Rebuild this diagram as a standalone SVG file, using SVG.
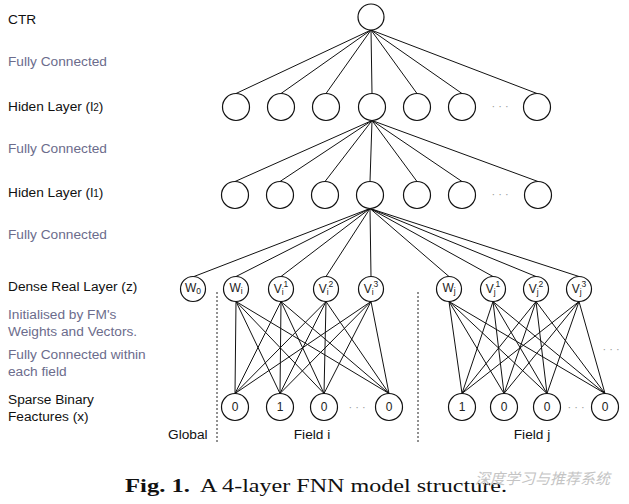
<svg xmlns="http://www.w3.org/2000/svg" width="629" height="504" viewBox="0 0 629 504">
<style>
.lbl{font-family:"Liberation Sans",Arial,sans-serif;font-size:13.7px;fill:#111}
.fc{font-family:"Liberation Sans",Arial,sans-serif;font-size:13.7px;fill:#6c6c8c}
.node{fill:#fff;stroke:#111;stroke-width:1.2}
.nt{font-family:"Liberation Sans",Arial,sans-serif;font-size:12px;fill:#222;text-anchor:middle}
.ns{font-size:8.5px}
.dots{font-family:"Liberation Sans",Arial,sans-serif;font-size:11px;fill:#999;text-anchor:middle}
.edge{stroke:#111;stroke-width:1;fill:none}
.dash{stroke:#222;stroke-width:1;stroke-dasharray:2,2;fill:none}
</style>
<rect width="629" height="504" fill="#fff"/>

<g id="labels">
<text class="lbl" x="8" y="24">CTR</text>
<text class="fc" x="8" y="66">Fully Connected</text>
<text class="lbl" x="8" y="111">Hiden Layer (l<tspan font-size="10">2</tspan>)</text>
<text class="fc" x="8" y="153">Fully Connected</text>
<text class="lbl" x="8" y="197">Hiden Layer (l<tspan font-size="10">1</tspan>)</text>
<text class="fc" x="8" y="239">Fully Connected</text>
<text class="lbl" x="8" y="291">Dense Real Layer (z)</text>
<text class="fc" x="8" y="319">Initialised by FM's</text>
<text class="fc" x="8" y="336">Weights and Vectors.</text>
<text class="fc" x="8" y="359">Fully Connected within</text>
<text class="fc" x="8" y="376">each field</text>
<text class="lbl" x="8" y="404">Sparse Binary</text>
<text class="lbl" x="8" y="421">Feactures (x)</text>
<text class="lbl" x="168" y="439">Global</text>
<text class="lbl" x="312" y="439" text-anchor="middle">Field i</text>
<text class="lbl" x="532" y="439" text-anchor="middle">Field j</text>
</g>

<g id="connectors">
<line class="edge" x1="371" y1="30" x2="236" y2="93.5"/>
<line class="edge" x1="371" y1="30" x2="281" y2="93.5"/>
<line class="edge" x1="371" y1="30" x2="326" y2="93.5"/>
<line class="edge" x1="371" y1="30" x2="372" y2="93.5"/>
<line class="edge" x1="371" y1="30" x2="417" y2="93.5"/>
<line class="edge" x1="371" y1="30" x2="462" y2="93.5"/>
<line class="edge" x1="371" y1="30" x2="537" y2="93.5"/>
<line class="edge" x1="372" y1="120.5" x2="235" y2="181.5"/>
<line class="edge" x1="372" y1="120.5" x2="280" y2="181.5"/>
<line class="edge" x1="372" y1="120.5" x2="325" y2="181.5"/>
<line class="edge" x1="372" y1="120.5" x2="370" y2="181.5"/>
<line class="edge" x1="372" y1="120.5" x2="417" y2="181.5"/>
<line class="edge" x1="372" y1="120.5" x2="462" y2="181.5"/>
<line class="edge" x1="372" y1="120.5" x2="538" y2="181.5"/>
<line class="edge" x1="370" y1="208.5" x2="194" y2="276.5"/>
<line class="edge" x1="370" y1="208.5" x2="236" y2="276.5"/>
<line class="edge" x1="370" y1="208.5" x2="281" y2="276.5"/>
<line class="edge" x1="370" y1="208.5" x2="326" y2="276.5"/>
<line class="edge" x1="370" y1="208.5" x2="371" y2="276.5"/>
<line class="edge" x1="370" y1="208.5" x2="449" y2="276.5"/>
<line class="edge" x1="370" y1="208.5" x2="493" y2="276.5"/>
<line class="edge" x1="370" y1="208.5" x2="536" y2="276.5"/>
<line class="edge" x1="370" y1="208.5" x2="579" y2="276.5"/>
<g>
<line class="edge" x1="236" y1="301.5" x2="235" y2="393.5"/>
<line class="edge" x1="236" y1="301.5" x2="280" y2="393.5"/>
<line class="edge" x1="236" y1="301.5" x2="324" y2="393.5"/>
<line class="edge" x1="236" y1="301.5" x2="389" y2="393.5"/>
<line class="edge" x1="281" y1="301.5" x2="235" y2="393.5"/>
<line class="edge" x1="281" y1="301.5" x2="280" y2="393.5"/>
<line class="edge" x1="281" y1="301.5" x2="324" y2="393.5"/>
<line class="edge" x1="281" y1="301.5" x2="389" y2="393.5"/>
<line class="edge" x1="326" y1="301.5" x2="235" y2="393.5"/>
<line class="edge" x1="326" y1="301.5" x2="280" y2="393.5"/>
<line class="edge" x1="326" y1="301.5" x2="324" y2="393.5"/>
<line class="edge" x1="326" y1="301.5" x2="389" y2="393.5"/>
<line class="edge" x1="371" y1="301.5" x2="235" y2="393.5"/>
<line class="edge" x1="371" y1="301.5" x2="280" y2="393.5"/>
<line class="edge" x1="371" y1="301.5" x2="324" y2="393.5"/>
<line class="edge" x1="371" y1="301.5" x2="389" y2="393.5"/>
</g>
<g>
<line class="edge" x1="449" y1="301.5" x2="462" y2="393.5"/>
<line class="edge" x1="449" y1="301.5" x2="504" y2="393.5"/>
<line class="edge" x1="449" y1="301.5" x2="547" y2="393.5"/>
<line class="edge" x1="449" y1="301.5" x2="605" y2="393.5"/>
<line class="edge" x1="493" y1="301.5" x2="462" y2="393.5"/>
<line class="edge" x1="493" y1="301.5" x2="504" y2="393.5"/>
<line class="edge" x1="493" y1="301.5" x2="547" y2="393.5"/>
<line class="edge" x1="493" y1="301.5" x2="605" y2="393.5"/>
<line class="edge" x1="536" y1="301.5" x2="462" y2="393.5"/>
<line class="edge" x1="536" y1="301.5" x2="504" y2="393.5"/>
<line class="edge" x1="536" y1="301.5" x2="547" y2="393.5"/>
<line class="edge" x1="536" y1="301.5" x2="605" y2="393.5"/>
<line class="edge" x1="579" y1="301.5" x2="462" y2="393.5"/>
<line class="edge" x1="579" y1="301.5" x2="504" y2="393.5"/>
<line class="edge" x1="579" y1="301.5" x2="547" y2="393.5"/>
<line class="edge" x1="579" y1="301.5" x2="605" y2="393.5"/>
</g>
<line class="dash" x1="217" y1="292" x2="217" y2="442"/>
<line class="dash" x1="418" y1="292" x2="418" y2="442"/>
</g>

<g id="ctr"><circle class="node" cx="371" cy="17" r="13"/></g>

<g id="l2">
<circle class="node" cx="236" cy="107" r="13.5"/>
<circle class="node" cx="281" cy="107" r="13.5"/>
<circle class="node" cx="326" cy="107" r="13.5"/>
<circle class="node" cx="372" cy="107" r="13.5"/>
<circle class="node" cx="417" cy="107" r="13.5"/>
<circle class="node" cx="462" cy="107" r="13.5"/>
<text class="dots" x="500" y="110">· · ·</text>
<circle class="node" cx="537" cy="107" r="13.5"/>
</g>

<g id="l1">
<circle class="node" cx="235" cy="195" r="13.5"/>
<circle class="node" cx="280" cy="195" r="13.5"/>
<circle class="node" cx="325" cy="195" r="13.5"/>
<circle class="node" cx="370" cy="195" r="13.5"/>
<circle class="node" cx="417" cy="195" r="13.5"/>
<circle class="node" cx="462" cy="195" r="13.5"/>
<text class="dots" x="500" y="198">· · ·</text>
<circle class="node" cx="538" cy="195" r="13.5"/>
</g>

<g id="dense-global">
<circle class="node" cx="193" cy="289" r="12.5"/>
<text class="nt" x="193" y="292">W<tspan class="ns" dy="2">0</tspan></text>
</g>
<g id="dense-field-i">
<circle class="node" cx="236" cy="289" r="12.5"/>
<text class="nt" x="236" y="292">W<tspan class="ns" dy="2">i</tspan></text>
<circle class="node" cx="281" cy="289" r="12.5"/>
<text class="nt" x="281" y="293">V<tspan class="ns" dy="2">i</tspan><tspan class="ns" dy="-8">1</tspan></text>
<circle class="node" cx="326" cy="289" r="12.5"/>
<text class="nt" x="326" y="293">V<tspan class="ns" dy="2">i</tspan><tspan class="ns" dy="-8">2</tspan></text>
<circle class="node" cx="371" cy="289" r="12.5"/>
<text class="nt" x="371" y="293">V<tspan class="ns" dy="2">i</tspan><tspan class="ns" dy="-8">3</tspan></text>
</g>
<g id="dense-field-j">
<circle class="node" cx="449" cy="289" r="12.5"/>
<text class="nt" x="449" y="292">W<tspan class="ns" dy="2">j</tspan></text>
<circle class="node" cx="493" cy="289" r="12.5"/>
<text class="nt" x="493" y="293">V<tspan class="ns" dy="2">j</tspan><tspan class="ns" dy="-8">1</tspan></text>
<circle class="node" cx="536" cy="289" r="12.5"/>
<text class="nt" x="536" y="293">V<tspan class="ns" dy="2">j</tspan><tspan class="ns" dy="-8">2</tspan></text>
<circle class="node" cx="579" cy="289" r="12.5"/>
<text class="nt" x="579" y="293">V<tspan class="ns" dy="2">j</tspan><tspan class="ns" dy="-8">3</tspan></text>
</g>
<text class="dots" x="611" y="353">· · ·</text>

<g id="sparse-field-i">
<circle class="node" cx="235" cy="407" r="13.5"/><text class="nt" x="235" y="411">0</text>
<circle class="node" cx="280" cy="407" r="13.5"/><text class="nt" x="280" y="411">1</text>
<circle class="node" cx="324" cy="407" r="13.5"/><text class="nt" x="324" y="411">0</text>
<text class="dots" x="357" y="411">· · ·</text>
<circle class="node" cx="389" cy="407" r="13.5"/><text class="nt" x="389" y="411">0</text>
</g>
<g id="sparse-field-j">
<circle class="node" cx="462" cy="407" r="13.5"/><text class="nt" x="462" y="411">1</text>
<circle class="node" cx="504" cy="407" r="13.5"/><text class="nt" x="504" y="411">0</text>
<circle class="node" cx="547" cy="407" r="13.5"/><text class="nt" x="547" y="411">0</text>
<text class="dots" x="576" y="411">· · ·</text>
<circle class="node" cx="605" cy="407" r="13.5"/><text class="nt" x="605" y="411">0</text>
</g>

<g id="caption">
<text x="125" y="492" font-family="'Liberation Serif','Times New Roman',serif" font-size="19" font-weight="bold" fill="#111" textLength="65" lengthAdjust="spacingAndGlyphs">Fig. 1.</text>
<text x="200" y="492" font-family="'Liberation Serif','Times New Roman',serif" font-size="19" fill="#111" textLength="307" lengthAdjust="spacingAndGlyphs">A 4-layer FNN model structure.</text>
<text x="475" y="484" font-family="'Noto Sans CJK SC',sans-serif" font-size="15" fill="#c4c4c4" font-style="italic" textLength="135" lengthAdjust="spacingAndGlyphs">深度学习与推荐系统</text>
</g>
</svg>
